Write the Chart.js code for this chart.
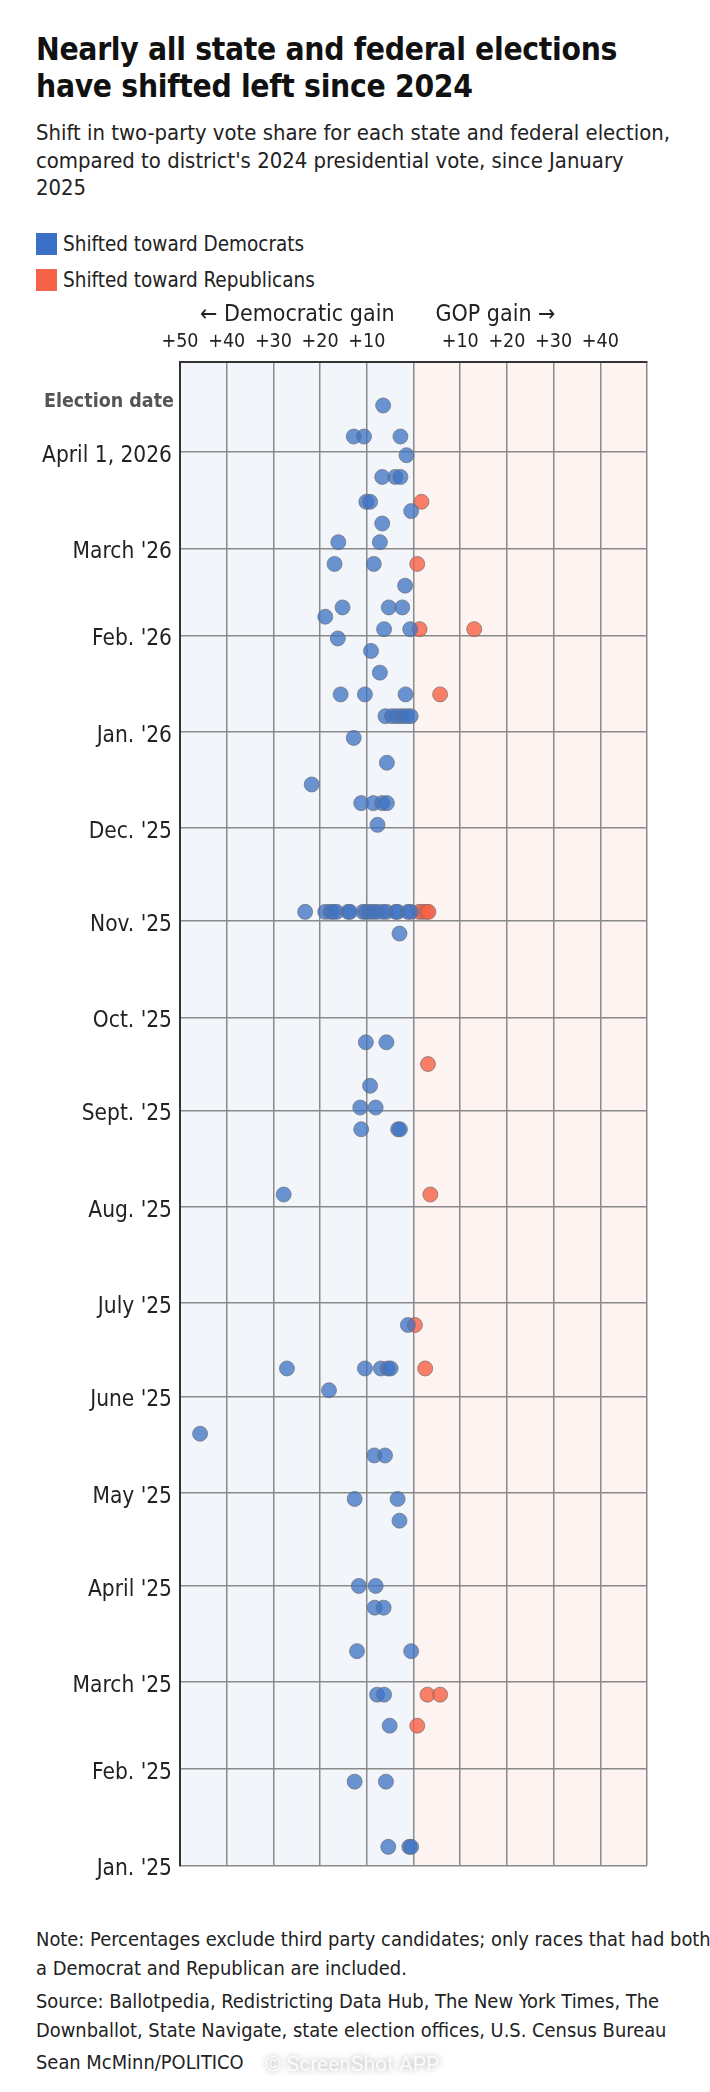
<!DOCTYPE html>
<html>
<head>
<meta charset="utf-8">
<script src="https://cdn.jsdelivr.net/npm/chart.js@4.4.1/dist/chart.umd.min.js"></script>
<style>
  html, body { margin:0; padding:0; background:#fff; }
  body { width:710px; height:2092px; position:relative; overflow:hidden;
         font-family:"Liberation Sans Narrow","DejaVu Sans Condensed","Roboto",sans-serif; color:#222; }
  .abs { position:absolute; left:36px; white-space:nowrap; }
  #title { top:31px; font-size:31.5px; line-height:37px; font-weight:bold; color:#111; letter-spacing:-0.3px; }
  #sub { top:119px; font-size:21.9px; line-height:27.5px; color:#222; }
  .leg { position:absolute; left:36px; height:22px; font-size:20.5px; line-height:22px; }
  .leg span.sw { position:absolute; left:0; top:0; width:21px; height:22px; }
  .leg span.tx { position:absolute; left:27px; top:0; white-space:nowrap; }
  #wrap { position:absolute; left:0; top:297px; width:710px; height:1590px; }
  .foot { font-size:19.9px; line-height:29px; color:#222; }
  #wm { position:absolute; left:265px; top:2052px; font-size:21px; color:rgba(255,255,255,0.9);
        text-shadow:0 0 6px rgba(0,0,0,0.35); white-space:nowrap; font-family:"Roboto",sans-serif; }
</style>
</head>
<body>
<div id="title" class="abs">Nearly all state and federal elections<br>have shifted left since 2024</div>
<div id="sub" class="abs">Shift in two-party vote share for each state and federal election,<br>compared to district's 2024 presidential vote, since January<br>2025</div>
<div class="leg" style="top:233px"><span class="sw" style="background:#3a70c5"></span><span class="tx">Shifted toward Democrats</span></div>
<div class="leg" style="top:269px"><span class="sw" style="background:#f56248"></span><span class="tx">Shifted toward Republicans</span></div>
<div id="wrap"><canvas id="c"></canvas></div>
<div class="abs foot" style="top:1925px">Note: Percentages exclude third party candidates; only races that had both<br>a Democrat and Republican are included.</div>
<div class="abs foot" style="top:1987px">Source: Ballotpedia, Redistricting Data Hub, The New York Times, The<br>Downballot, State Navigate, state election offices, U.S. Census Bureau</div>
<div class="abs foot" style="top:2048px">Sean McMinn/POLITICO</div>
<div id="wm">© ScreenShot APP</div>
<script>
// ---- DATA ----
// Negative shift = toward Democrats, positive = toward Republicans (percentage points)
const demDates = [
  "2026-04-16",
  "2026-04-06","2026-04-06","2026-04-06",
  "2026-03-31",
  "2026-03-24","2026-03-24","2026-03-24",
  "2026-03-16","2026-03-16",
  "2026-03-13",
  "2026-03-09",
  "2026-03-03","2026-03-03",
  "2026-02-24","2026-02-24",
  "2026-02-17",
  "2026-02-10","2026-02-10","2026-02-10",
  "2026-02-07",
  "2026-02-03","2026-02-03",
  "2026-01-31",
  "2026-01-27",
  "2026-01-20",
  "2026-01-13","2026-01-13","2026-01-13",
  "2026-01-06","2026-01-06","2026-01-06","2026-01-06","2026-01-06","2026-01-06",
  "2025-12-30",
  "2025-12-22",
  "2025-12-15",
  "2025-12-09","2025-12-09","2025-12-09","2025-12-09",
  "2025-12-02",
  "2025-11-04","2025-11-04","2025-11-04","2025-11-04","2025-11-04","2025-11-04",
  "2025-11-04","2025-11-04","2025-11-04","2025-11-04","2025-11-04","2025-11-04",
  "2025-11-04","2025-11-04","2025-11-04","2025-11-04","2025-11-04","2025-11-04",
  "2025-10-28",
  "2025-09-23","2025-09-23",
  "2025-09-09",
  "2025-09-02","2025-09-02",
  "2025-08-26","2025-08-26","2025-08-26",
  "2025-08-05",
  "2025-06-24",
  "2025-06-10","2025-06-10","2025-06-10","2025-06-10","2025-06-10",
  "2025-06-03",
  "2025-05-20",
  "2025-05-13","2025-05-13",
  "2025-04-29","2025-04-29",
  "2025-04-22",
  "2025-04-01","2025-04-01",
  "2025-03-25","2025-03-25",
  "2025-03-11","2025-03-11",
  "2025-02-25","2025-02-25",
  "2025-02-15",
  "2025-01-28","2025-01-28",
  "2025-01-07","2025-01-07","2025-01-07"
];
const demShift = [
  -6.5,
  -12.8,-10.6,-2.8,
  -1.5,
  -6.7,-3.9,-2.8,
  -10.1,-9.3,
  -0.5,
  -6.7,
  -16.1,-7.2,
  -16.9,-8.5,
  -1.8,
  -15.2,-5.3,-2.4,
  -18.9,
  -6.3,-0.7,
  -16.2,
  -9.1,
  -7.2,
  -15.6,-10.4,-1.7,
  -6.0,-4.6,-3.5,-2.5,-1.5,-0.6,
  -12.8,
  -5.7,
  -21.8,
  -11.2,-8.6,-6.7,-5.7,
  -7.7,
  -23.2,-18.9,-17.8,-17.2,-16.5,-14.0,
  -13.6,-10.8,-10.2,-9.4,-8.6,-7.8,
  -6.6,-5.8,-3.8,-3.4,-1.2,-0.6,
  -3.0,
  -10.2,-5.8,
  -9.3,
  -11.4,-8.1,
  -11.2,-3.3,-2.9,
  -27.8,
  -1.2,
  -27.1,-10.4,-7.0,-5.5,-4.9,
  -18.1,
  -45.7,
  -8.4,-6.1,
  -12.6,-3.4,
  -3.0,
  -11.7,-8.1,
  -8.3,-6.4,
  -12.1,-0.5,
  -7.8,-6.3,
  -5.1,
  -12.6,-5.9,
  -5.4,-0.9,-0.5
];
const repDates = [
  "2026-03-16","2026-02-24","2026-02-03","2026-02-03","2026-01-13",
  "2025-11-04","2025-11-04","2025-11-04","2025-11-04",
  "2025-09-16","2025-08-05","2025-06-24","2025-06-10",
  "2025-02-25","2025-02-25","2025-02-15"
];
const repShift = [
  1.7, 0.8, 1.3, 13.0, 5.7,
  1.2, 2.0, 2.8, 3.2,
  3.1, 3.6, 0.3, 2.5,
  3.0, 5.7, 0.8
];
const yTickDates = ["2025-01-01","2025-02-01","2025-03-01","2025-04-01","2025-05-01","2025-06-01",
  "2025-07-01","2025-08-01","2025-09-01","2025-10-01","2025-11-01","2025-12-01",
  "2026-01-01","2026-02-01","2026-03-01","2026-04-01"];
const yTickLabels = ["Jan. '25","Feb. '25","March '25","April '25","May '25","June '25",
  "July '25","Aug. '25","Sept. '25","Oct. '25","Nov. '25","Dec. '25",
  "Jan. '26","Feb. '26","March '26","April 1, 2026"];
const xTickValues = [-50,-40,-30,-20,-10,0,10,20,30,40,50];
const xTickLabels = ["+50","+40","+30","+20","+10","","+10","+20","+30","+40",""];
const yStart = "2025-01-01", yEnd = "2026-04-30";

// ---- helpers ----
const dayNum = s => { const [y,m,d] = s.split("-").map(Number); return (Date.UTC(y,m-1,d) - Date.UTC(2025,0,1)) / 864e5; };
const demPts = demDates.map((d,i) => ({x: demShift[i], y: dayNum(d)}));
const repPts = repDates.map((d,i) => ({x: repShift[i], y: dayNum(d)}));
const FONT = "'Liberation Sans Narrow','DejaVu Sans Condensed',Roboto,sans-serif";

const decor = {
  id: 'decor',
  beforeDraw(chart) {
    const {ctx, chartArea:a, scales:{x}} = chart;
    const z = x.getPixelForValue(0);
    ctx.save();
    ctx.fillStyle = '#f2f6fb';
    ctx.fillRect(a.left, a.top, z - a.left, a.bottom - a.top);
    ctx.fillStyle = '#fdf3f0';
    ctx.fillRect(z, a.top, a.right - z, a.bottom - a.top);
    ctx.restore();
  },
  afterDraw(chart) {
    const {ctx, chartArea:a, scales:{x}} = chart;
    const z = x.getPixelForValue(0);
    ctx.save();
    ctx.fillStyle = '#222';
    ctx.font = "23px " + FONT;
    ctx.textBaseline = 'middle';
    ctx.textAlign = 'right';
    ctx.fillText('\u2190 Democratic gain', z - 19, 18);
    ctx.textAlign = 'left';
    ctx.fillText('GOP gain \u2192', z + 22, 18);
    ctx.font = "bold 19.5px " + FONT;
    ctx.fillStyle = '#555';
    ctx.textAlign = 'right';
    ctx.fillText('Election date', a.left - 6, a.top + 40);
    ctx.restore();
  }
};

new Chart(document.getElementById('c'), {
  type: 'scatter',
  data: {
    datasets: [
      { label: 'Shifted toward Democrats', data: demPts,
        backgroundColor: 'rgba(62,115,196,0.76)', borderColor: 'rgba(110,110,120,0.7)',
        borderWidth: 1, pointRadius: 7.5, pointHoverRadius: 7.5 },
      { label: 'Shifted toward Republicans', data: repPts,
        backgroundColor: 'rgba(246,96,70,0.8)', borderColor: 'rgba(120,110,110,0.7)',
        borderWidth: 1, pointRadius: 7.5, pointHoverRadius: 7.5 }
    ]
  },
  options: {
    responsive: true, maintainAspectRatio: false, animation: false,
    layout: { padding: { left: 0, right: 63, top: 0, bottom: 21 } },
    plugins: { legend: { display: false }, tooltip: { enabled: false } },
    scales: {
      x: {
        type: 'linear', position: 'top', min: -50, max: 50,
        afterBuildTicks: s => { s.ticks = xTickValues.map(v => ({value: v})); },
        afterFit: s => { s.height = 65; },
        ticks: { autoSkip: false, maxRotation: 0, padding: 8, color: '#222',
          font: { family: FONT, size: 19.5 },
          callback: (v) => xTickLabels[xTickValues.indexOf(v)] },
        grid: { color: '#8a8a8a', lineWidth: 1.5, drawTicks: false },
        border: { color: '#333', width: 2 }
      },
      y: {
        type: 'linear', min: dayNum(yStart), max: dayNum(yEnd),
        afterBuildTicks: s => { s.ticks = yTickDates.map(d => ({value: dayNum(d)})); },
        afterFit: s => { s.width = 180; },
        ticks: { autoSkip: false, padding: 8, color: '#222', labelOffset: 4,
          font: { family: FONT, size: 22.5 },
          callback: (v) => yTickLabels[yTickDates.map(dayNum).indexOf(v)] },
        grid: { color: '#8a8a8a', lineWidth: 1.5, drawTicks: false },
        border: { color: '#333', width: 2 }
      }
    }
  },
  plugins: [decor]
});
</script>
</body>
</html>
